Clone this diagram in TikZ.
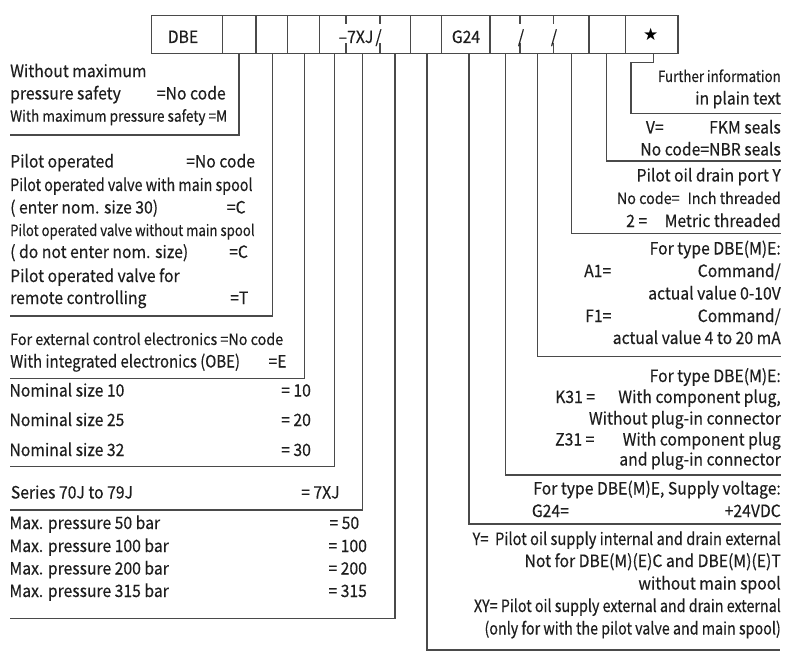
\documentclass[tikz,border=0pt]{standalone}
\usepackage{fontspec}
\usepackage{graphicx}
\setmainfont{Noto Sans CJK SC}[FakeStretch=0.925, FakeBold=0.3]
\newfontfamily\symfont{DejaVu Sans}
\definecolor{leadgray}{HTML}{4A4A4A}
\definecolor{txtgray}{HTML}{1E1E1E}
\newcommand\bigtxt{\fontsize{17}{20}\selectfont}
\newcommand\smalltxt{\fontsize{15.5}{18}\selectfont}
\newcommand\sqz[2]{\scalebox{#1}[1]{#2}}
\tikzset{
  lead/.style={draw=leadgray, line width=1.2pt},
  lt/.style={anchor=base west, inner sep=0pt, text=txtgray, font=\bigtxt},
  rt/.style={anchor=base east, inner sep=0pt, text=txtgray, font=\bigtxt},
  cell/.style={anchor=base, inner sep=0pt, text=txtgray, font=\bigtxt},
  sm/.style={font=\smalltxt}
}

\begin{document}
\begin{tikzpicture}[x=1pt, y=-1pt]
      \fill[white] (0,0) rectangle (800,663);
      \useasboundingbox (0,0) rectangle (800,663);
      % code box
      \draw[lead] (151.7,15.5) rectangle (678,53.3);
      \foreach \x in {222.7,256,287.7,319.3,410.7,441.7,490,589,625.7}
        \draw[lead] (\x,15.5) -- (\x,53.3);
      \foreach \x in {346,380,520,553.3} {
        \draw[lead] (\x,15.5) -- (\x,24.5);
        \draw[lead] (\x,43.5) -- (\x,53.3);
      }
      \node[cell] (dbe) at (183,43) {DBE};
      \node[cell] (ser) at (356,43) {–7XJ};
      \node[cell] (sl1) at (378.5,43) {/};
      \node[cell] (g24) at (466,43) {G24};
      \node[cell] (sl2) at (521,43) {/};
      \node[cell] (sl3) at (554,43) {/};
      \node[inner sep=0pt, text=black, font=\symfont\fontsize{17}{17}\selectfont] (star) at (650.7,34) {★};
      % leaders to the left
      \draw[lead] (239,53.3) |- (10,135);
      \draw[lead] (272.7,53.3) |- (10,316);
      \draw[lead] (304.3,53.3) |- (10,378.3);
      \draw[lead] (334.3,53.3) |- (10,466.7);
      \draw[lead] (362.7,53.3) |- (10,510);
      \draw[lead] (395,53.3) |- (10,618.3);
      % leaders to the right
      \draw[lead] (427,53.3) |- (780,650);
      \draw[lead] (469,53.3) |- (781,524);
      \draw[lead] (505.7,53.3) |- (781,475);
      \draw[lead] (537.7,53.3) |- (781,356.7);
      \draw[lead] (571.7,53.3) |- (781,233.3);
      \draw[lead] (606.7,53.3) |- (781,161);
      \draw[lead] (653.3,53.3) -- (653.3,62.7) -| (631,113.3) -- (781,113.3);
      % left texts
      \node[lt] (m1) at (10,77.2) {Without maximum};
      \node[lt] (m2) at (10,99.5) {pressure safety};
      \node[lt] (m2c) at (156.7,99.5) {=No code};
      \node[lt, sm] (m3) at (10,121.7) {\sqz{0.95}{With maximum pressure safety =M}};
      \node[lt] (p1) at (10,167.5) {Pilot operated};
      \node[lt] (p1c) at (186,167.5) {=No code};
      \node[lt] (p2) at (10,191) {\sqz{0.91}{Pilot operated valve with main spool}};
      \node[lt] (p3) at (10,213.5) {( enter nom. size 30)};
      \node[lt] (p3c) at (226.7,213.5) {=C};
      \node[lt, sm] (p4) at (10,236) {\sqz{0.92}{Pilot operated valve without main spool}};
      \node[lt] (p5) at (10,258) {( do not enter nom. size)};
      \node[lt] (p5c) at (229,258) {=C};
      \node[lt] (p6) at (10,282) {Pilot operated valve for};
      \node[lt] (p7) at (10,304) {remote controlling};
      \node[lt] (p7c) at (230,304) {=T};
      \node[lt, sm] (e1) at (10,345) {For external control electronics =No code};
      \node[lt] (e2) at (10,367.5) {\sqz{0.95}{With integrated electronics (OBE)}};
      \node[lt] (e2c) at (268.3,367.5) {=E};
      \node[lt] (ns1) at (9.3,396.5) {Nominal size 10};
      \node[lt] (ns1c) at (281,396.5) {= 10};
      \node[lt] (ns2) at (9.3,426) {Nominal size 25};
      \node[lt] (ns2c) at (281,426) {= 20};
      \node[lt] (ns3) at (9.3,456) {Nominal size 32};
      \node[lt] (ns3c) at (281,456) {= 30};
      \node[lt] (sr) at (10.7,498.5) {Series 70J to 79J};
      \node[lt] (src) at (301,498.5) {= 7XJ};
      \node[lt] (mp1) at (9.3,529) {Max. pressure 50 bar};
      \node[lt] (mp1c) at (329.3,529) {= 50};
      \node[lt] (mp2) at (9.3,552) {Max. pressure 100 bar};
      \node[lt] (mp2c) at (328.3,552) {= 100};
      \node[lt] (mp3) at (9.3,574.5) {Max. pressure 200 bar};
      \node[lt] (mp3c) at (328.3,574.5) {= 200};
      \node[lt] (mp4) at (9.3,597) {Max. pressure 315 bar};
      \node[lt] (mp4c) at (328.3,597) {= 315};
      % right texts
      \node[rt, sm] (f1) at (781,82) {\sqz{0.93}{Further information}};
      \node[rt] (f2) at (781,104.5) {in plain text};
      \node[lt] (s1c) at (645.7,133.5) {V=};
      \node[rt] (s1) at (781,133.5) {FKM seals};
      \node[rt] (s2) at (781,155.5) {No code=NBR seals};
      \node[rt] (d1) at (781,181.5) {Pilot oil drain port Y};
      \node[lt, sm] (d2c) at (616.7,204) {No code=};
      \node[rt, sm] (d2) at (781,204) {Inch threaded};
      \node[lt] (d3c) at (626,227) {2 =};
      \node[rt] (d3) at (781,227) {Metric threaded};
      \node[rt] (a0) at (781,254.5) {For type DBE(M)E:};
      \node[lt] (a1c) at (584,277) {A1=};
      \node[rt] (a1) at (781,277) {Command/};
      \node[rt] (a2) at (781,299.5) {actual value 0-10V};
      \node[lt] (a3c) at (585,322) {F1=};
      \node[rt] (a3) at (781,322) {Command/};
      \node[rt] (a4) at (781,344) {actual value 4 to 20 mA};
      \node[rt] (k0) at (781,382) {For type DBE(M)E:};
      \node[lt] (k1c) at (555,403) {K31 =};
      \node[rt] (k1) at (781,403) {With component plug,};
      \node[rt] (k2) at (781,424.5) {Without plug-in connector};
      \node[lt] (k3c) at (555,445.5) {Z31 =};
      \node[rt] (k3) at (781,445.5) {With component plug};
      \node[rt] (k4) at (781,465.5) {and plug-in connector};
      \node[rt] (v1) at (781,494.5) {For type DBE(M)E, Supply voltage:};
      \node[lt] (v2c) at (531.7,517) {G24=};
      \node[rt] (v2) at (781,517) {+24VDC};
      \node[rt] (y1) at (781,545) {\sqz{0.935}{Y=\ \ Pilot oil supply internal and drain external}};
      \node[rt] (y2) at (781,567) {Not for DBE(M)(E)C and DBE(M)(E)T};
      \node[rt] (y3) at (781,589.5) {without main spool};
      \node[rt] (y4) at (781,612) {\sqz{0.91}{XY= Pilot oil supply external and drain external}};
      \node[rt] (y5) at (781,634.5) {\sqz{0.91}{(only for with the pilot valve and main spool)}};
    \end{tikzpicture}
\end{document}
